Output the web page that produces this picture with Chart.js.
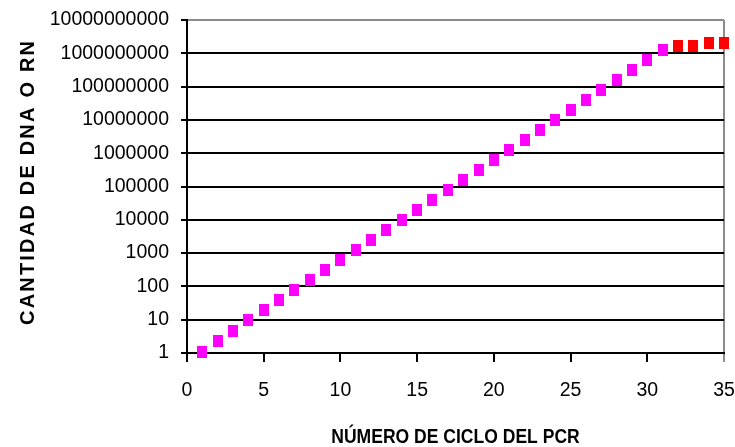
<!DOCTYPE html>
<html>
<head>
<meta charset="utf-8">
<script src="https://cdn.jsdelivr.net/npm/chart.js@4/dist/chart.umd.min.js"></script>
<style>
  html, body { margin: 0; padding: 0; background: #fff; }
  #wrap { width: 735px; height: 447px; position: relative; }
</style>
</head>
<body>
<div id="wrap"><canvas id="pcr" width="735" height="447"></canvas></div>
<script>
// PCR cycle number
const cycles = [1, 2, 3, 4, 5, 6, 7, 8, 9, 10, 11, 12, 13, 14, 15, 16, 17, 18,
  19, 20, 21, 22, 23, 24, 25, 26, 27, 28, 29, 30, 31, 32, 33, 34, 35];

// Amount of DNA / RNA after each cycle
const amounts = [1.1, 2.3, 4.7, 9.7, 19, 38, 77, 155, 310, 620, 1240, 2480, 4900,
  10000, 20000, 40000, 80000, 160000, 315000, 630000, 1260000, 2520000, 5000000,
  10000000, 20000000, 40000000, 80000000, 160000000, 320000000, 640000000,
  1280000000, 1700000000, 1700000000, 2000000000, 2000000000];

// Number of cycles in the exponential phase (rest is the plateau)
const exponentialCycles = 31;

// Axis tick values
const yTicks = [1, 10, 100, 1000, 10000, 100000, 1000000, 10000000, 100000000,
  1000000000, 10000000000];
const xTicks = [0, 5, 10, 15, 20, 25, 30, 35];

const yTitle = 'CANTIDAD DE DNA O RN';
const xTitle = 'NÚMERO DE CICLO DEL PCR';

function marker(color) {
  const c = document.createElement('canvas');
  c.width = 10; c.height = 12;
  const g = c.getContext('2d');
  g.fillStyle = color;
  g.fillRect(0, 0, 10, 12);
  return c;
}

const toPoints = (from, to) => cycles.slice(from, to).map((c, i) => ({ x: c, y: amounts[from + i] }));

const FONT = "'Liberation Sans', Arial, sans-serif";

// Axis titles: rotated, letter-spaced y title and a condensed x title
const axisTitlePlugin = {
  id: 'axisTitles',
  afterDraw(chart) {
    const ctx = chart.ctx;
    const area = chart.chartArea;

    ctx.save();
    ctx.translate(34, 325);
    ctx.rotate(-Math.PI / 2);
    ctx.font = 'bold 20px ' + FONT;
    ctx.letterSpacing = '2.2px';
    ctx.fillStyle = '#000';
    ctx.textAlign = 'left';
    ctx.textBaseline = 'alphabetic';
    ctx.fillText(yTitle, 0, 0);
    ctx.restore();

    ctx.save();
    ctx.translate((area.left + area.right) / 2, 443);
    ctx.scale(0.835, 1);
    ctx.font = 'bold 21px ' + FONT;
    ctx.fillStyle = '#000';
    ctx.textAlign = 'center';
    ctx.textBaseline = 'alphabetic';
    ctx.fillText(xTitle, 0, 0);
    ctx.restore();
  }
};

new Chart(document.getElementById('pcr'), {
  type: 'scatter',
  data: {
    datasets: [
      {
        data: toPoints(0, exponentialCycles),
        pointStyle: marker('#ff00ff'),
        pointRadius: 6,
        clip: false
      },
      {
        data: toPoints(exponentialCycles, cycles.length),
        pointStyle: marker('#ff0000'),
        pointRadius: 6,
        clip: false
      }
    ]
  },
  plugins: [axisTitlePlugin],
  options: {
    responsive: false,
    animation: false,
    devicePixelRatio: 1,
    layout: { padding: { left: 0, right: 11, top: 20, bottom: 0 } },
    plugins: { legend: { display: false }, tooltip: { enabled: false } },
    scales: {
      x: {
        type: 'linear',
        min: 0,
        max: 35,
        afterBuildTicks: (s) => { s.ticks = xTicks.map(v => ({ value: v })); },
        afterFit: (s) => { s.height = 94; s.paddingLeft = 0; s.paddingRight = 0; },
        ticks: {
          color: '#000',
          font: { family: FONT, size: 19.5 },
          padding: 17,
          maxRotation: 0
        },
        grid: {
          drawOnChartArea: true,
          color: (c) => c.tick && c.tick.value === 35 ? '#8c8c8c' : 'rgba(0,0,0,0)',
          tickColor: (c) => c.tick && c.tick.value === 35 ? '#8c8c8c' : '#000',
          lineWidth: 2,
          tickLength: 9
        },
        border: { display: true, color: '#000', width: 2 }
      },
      y: {
        type: 'logarithmic',
        min: 1,
        max: 10000000000,
        afterBuildTicks: (s) => { s.ticks = yTicks.map(v => ({ value: v })); },
        afterFit: (s) => { s.width = 187; s.paddingTop = 0; s.paddingBottom = 0; },
        ticks: {
          color: '#000',
          font: { family: FONT, size: 19.5 },
          padding: 12,
          callback: (v) => String(v)
        },
        grid: {
          color: (c) => c.tick && c.tick.value === 10000000000 ? '#8c8c8c' : '#000',
          tickColor: '#000',
          lineWidth: 2,
          tickLength: 6
        },
        border: { display: true, color: '#000', width: 2 }
      }
    }
  }
});
</script>
</body>
</html>
